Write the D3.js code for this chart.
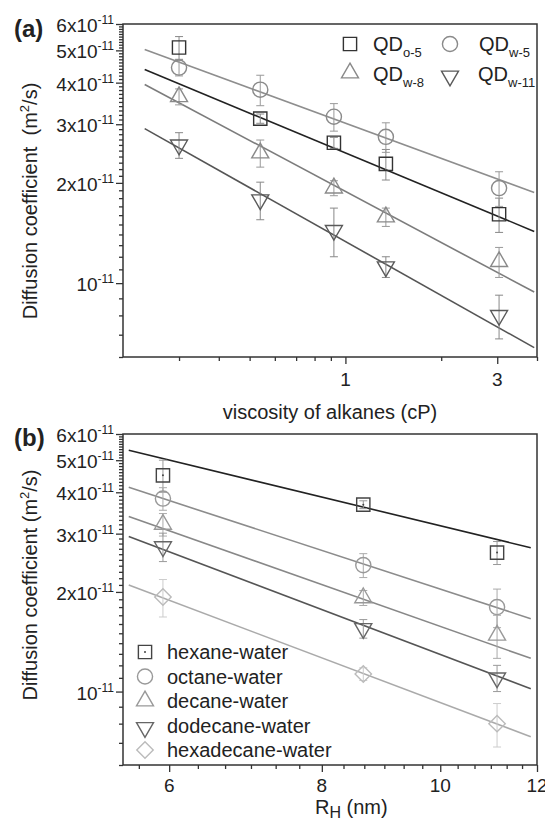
<html>
<head>
  <script src="https://d3js.org/d3.v7.min.js"></script>
  <style>
    body { margin: 0; background: #fff; }
    text { font-family: Arial, "Liberation Sans", sans-serif; fill: #222; }
    .axis line { stroke: #333; stroke-width: 1.3; }
    .axis .domain { stroke: none; }
  </style>
</head>
<body>
<svg id="chart" width=545 height=822></svg>
<script>
  // ---- panel (a) data, diffusion coefficient in units of 1e-11 m^2/s ----
  const viscosity = [0.3, 0.54, 0.92, 1.34, 3.04];
  const qdO5 = [5.1, 3.12, 2.64, 2.28, 1.61];
  const qdO5Err = [0.4, 0.1, 0.1, 0.24, 0.19];
  const qdW5 = [4.44, 3.81, 3.16, 2.75, 1.93];
  const qdW5Err = [0.25, 0.4, 0.3, 0.28, 0.23];
  const qdW8 = [3.63, 2.46, 1.93, 1.58, 1.16];
  const qdW8Err = [0.2, 0.23, 0.1, 0.1, 0.12];
  const qdW11 = [2.6, 1.78, 1.44, 1.12, 0.8];
  const qdW11Err = [0.23, 0.23, 0.24, 0.08, 0.12];
  // fitted lines (endpoints)
  const fitViscosity = [0.234, 3.92];
  const fitO5 = [4.38, 1.43];
  const fitW5 = [5.03, 1.87];
  const fitW8 = [3.95, 0.94];
  const fitW11 = [2.91, 0.64];

  // ---- panel (b) data ----
  const radiusH = [5.93, 8.65, 11.13];
  const hexane = [4.5, 3.67, 2.63];
  const hexaneErr = [0.5, 0.1, 0.21];
  const octane = [3.83, 2.41, 1.8];
  const octaneErr = [0.3, 0.2, 0.24];
  const decane = [3.2, 1.92, 1.48];
  const decaneErr = [0.25, 0.1, 0.22];
  const dodecane = [2.74, 1.55, 1.1];
  const dodecaneErr = [0.27, 0.1, 0.1];
  const hexadecane = [1.93, 1.13, 0.8];
  const hexadecaneErr = [0.25, 0.05, 0.12];
  const fitRadius = [5.56, 11.86];
  const fitHexane = [5.36, 2.72];
  const fitOctane = [4.14, 1.66];
  const fitDecane = [3.38, 1.26];
  const fitDodecane = [2.94, 1.02];
  const fitHexadecane = [2.1, 0.73];

  // ---- ticks ----
  const yMajor = [1, 2, 3, 4, 5, 6];
  const yMajorMant = ["", "2x", "3x", "4x", "5x", "6x"];
  const yExp = "-11";
  const yMinor = d3.range(6, 60).filter(i => i % 10 !== 0).map(i => i / 10);
  const xaMajor = [1, 3];
  const xaMajorLabels = ["1", "3"];
  const xaMinor = [0.3, 0.4, 0.5, 0.6, 0.7, 0.8, 0.9, 2, 4];
  const xbMajor = [6, 8, 10, 12];
  const xbMajorLabels = ["6", "8", "10", "12"];
  const xbMinor = d3.range(17, 36).filter(i => i % 6 !== 0).map(i => i / 3);

  const svg = d3.select("#chart");

  const shapes = {
    square: d3.symbol(d3.symbolSquare, 175)(),
    circle: d3.symbol(d3.symbolCircle, 180)(),
    tri: d3.symbol(d3.symbolTriangle, 125)(),
    diamond: d3.symbol(d3.symbolSquare, 135)()
  };
  const rot = { square: 0, circle: 0, tri: 0, triDown: 180, diamond: 45 };

  function marker(g, shape, cx, cy, color) {
    let s = shape === "triDown" ? "tri" : shape;
    g.append("path")
      .attr("d", shapes[s])
      .attr("transform", `translate(${cx},${cy}) rotate(${rot[shape]})`)
      .attr("fill", "none")
      .attr("stroke", color)
      .attr("stroke-width", 1.4);
  }

  function drawPanel(p) {
    const x = p.x, y = p.y;
    const [x0, x1] = x.range();
    const [yb, yt] = y.range();
    const g = svg.append("g");

    // minor and major ticks
    g.append("g").attr("class", "axis").attr("transform", `translate(${x0},0)`)
      .call(d3.axisLeft(y).tickValues(yMinor).tickSize(4).tickSizeOuter(0).tickFormat(""));
    g.append("g").attr("class", "axis").attr("transform", `translate(${x0},0)`)
      .call(d3.axisLeft(y).tickValues(yMajor).tickSize(7).tickSizeOuter(0).tickFormat(""));
    g.append("g").attr("class", "axis").attr("transform", `translate(0,${yb})`)
      .call(d3.axisBottom(x).tickValues(p.xMinor).tickSize(4).tickSizeOuter(0).tickFormat(""));
    g.append("g").attr("class", "axis").attr("transform", `translate(0,${yb})`)
      .call(d3.axisBottom(x).tickValues(p.xMajor).tickSize(7).tickSizeOuter(0).tickFormat(""));

    // y tick labels with superscript
    yMajor.forEach((v, i) => {
      let t = g.append("text")
        .attr("x", x0 - 9)
        .attr("y", y(v) + 8)
        .attr("text-anchor", "end")
        .style("font-size", "19px");
      t.append("tspan").text(yMajorMant[i] + "10");
      t.append("tspan").attr("dy", -8).style("font-size", "12px").text(yExp);
    });

    // x tick labels
    p.xMajor.forEach((v, i) => {
      g.append("text")
        .attr("x", x(v))
        .attr("y", yb + p.xLabelDy)
        .attr("text-anchor", "middle")
        .style("font-size", "19px")
        .text(p.xLabels[i]);
    });

    // frame
    g.append("rect")
      .attr("x", x0).attr("y", yt)
      .attr("width", x1 - x0).attr("height", yb - yt)
      .attr("fill", "none").attr("stroke", "#333").attr("stroke-width", 1.5);

    // y axis title
    let yt2 = g.append("text")
      .attr("transform", `translate(37,${p.yTitleY}) rotate(-90)`)
      .attr("text-anchor", "middle")
      .style("font-size", "20px");
    yt2.append("tspan").text(p.yTitle);
    yt2.append("tspan").attr("dy", -8).style("font-size", "13px").text("2");
    yt2.append("tspan").attr("dy", 8).text("/s)");

    // panel letter
    g.append("text")
      .attr("x", 14).attr("y", p.letterY)
      .style("font-size", "24px").style("font-weight", "bold")
      .text(p.letter);

    const line = d3.line().x(d => x(d[0])).y(d => y(d[1]));

    p.series.forEach(s => {
      // fit line
      g.append("path")
        .attr("d", line([[p.fitX[0], s.fit[0]], [p.fitX[1], s.fit[1]]]))
        .attr("fill", "none")
        .attr("stroke", s.lineColor)
        .attr("stroke-width", 1.6);
      // error bars
      s.values.forEach((v, i) => {
        let cx = x(p.xs[i]);
        let top = y(v + s.err[i]), bot = y(v - s.err[i]);
        g.append("line").attr("x1", cx).attr("x2", cx).attr("y1", top).attr("y2", bot)
          .attr("stroke", s.errColor).attr("stroke-width", 1);
        [top, bot].forEach(yy => {
          g.append("line").attr("x1", cx - 4).attr("x2", cx + 4).attr("y1", yy).attr("y2", yy)
            .attr("stroke", s.errColor).attr("stroke-width", 1);
        });
      });
      // markers
      s.values.forEach((v, i) => {
        marker(g, s.shape, x(p.xs[i]), y(v), s.color);
        if (s.dot) {
          g.append("circle").attr("cx", x(p.xs[i])).attr("cy", y(v)).attr("r", 1)
            .attr("fill", s.color);
        }
      });
    });
    return g;
  }

  // ---- panel (a) ----
  const xa = d3.scaleLog().domain([0.2, 4]).range([123, 537]);
  const ya = d3.scaleLog().domain([0.6, 6]).range([357, 24]);
  const ga = drawPanel({
    x: xa, y: ya, xs: viscosity, fitX: fitViscosity,
    xMajor: xaMajor, xMinor: xaMinor, xLabels: xaMajorLabels, xLabelDy: 29,
    yTitle: "Diffusion coefficient\u00a0\u00a0(m", yTitleY: 201,
    letter: "(a)", letterY: 37,
    series: [
      { values: qdO5, err: qdO5Err, fit: fitO5, shape: "square", color: "#333", lineColor: "#222", errColor: "#888" },
      { values: qdW5, err: qdW5Err, fit: fitW5, shape: "circle", color: "#8a8a8a", lineColor: "#8e8e8e", errColor: "#999" },
      { values: qdW8, err: qdW8Err, fit: fitW8, shape: "tri", color: "#8a8a8a", lineColor: "#7c7c7c", errColor: "#999" },
      { values: qdW11, err: qdW11Err, fit: fitW11, shape: "triDown", color: "#5a5a5a", lineColor: "#555", errColor: "#888" }
    ]
  });

  svg.append("text")
    .attr("x", 330).attr("y", 419)
    .attr("text-anchor", "middle")
    .style("font-size", "20px")
    .text("viscosity of alkanes (cP)");

  // legend (a)
  const legA = [
    { shape: "square", color: "#333", sub: "o-5", x: 350, y: 44, tx: 373 },
    { shape: "circle", color: "#8a8a8a", sub: "w-5", x: 450, y: 44, tx: 479 },
    { shape: "tri", color: "#8a8a8a", sub: "w-8", x: 350, y: 73, tx: 373 },
    { shape: "triDown", color: "#5a5a5a", sub: "w-11", x: 450, y: 76, tx: 478 }
  ];
  const rowBase = [51, 81];
  legA.forEach((d, i) => {
    marker(ga, d.shape, d.x, d.y, d.color);
    let t = ga.append("text")
      .attr("x", d.tx)
      .attr("y", rowBase[Math.floor(i / 2)])
      .style("font-size", "20px");
    t.append("tspan").text("QD");
    t.append("tspan").attr("dy", 6).style("font-size", "13px").text(d.sub);
  });

  // ---- panel (b) ----
  const xb = d3.scaleLog().domain([5.5, 12]).range([123, 537]);
  const yb = d3.scaleLog().domain([0.6, 6]).range([765, 434]);
  const bSeries = [
    { name: "hexane-water", values: hexane, err: hexaneErr, fit: fitHexane, shape: "square", color: "#444", lineColor: "#222", errColor: "#999", dot: true },
    { name: "octane-water", values: octane, err: octaneErr, fit: fitOctane, shape: "circle", color: "#999", lineColor: "#8c8c8c", errColor: "#aaa" },
    { name: "decane-water", values: decane, err: decaneErr, fit: fitDecane, shape: "tri", color: "#999", lineColor: "#888", errColor: "#aaa" },
    { name: "dodecane-water", values: dodecane, err: dodecaneErr, fit: fitDodecane, shape: "triDown", color: "#666", lineColor: "#555", errColor: "#999" },
    { name: "hexadecane-water", values: hexadecane, err: hexadecaneErr, fit: fitHexadecane, shape: "diamond", color: "#bbb", lineColor: "#aaa", errColor: "#ccc" }
  ];
  const gb = drawPanel({
    x: xb, y: yb, xs: radiusH, fitX: fitRadius,
    xMajor: xbMajor, xMinor: xbMinor, xLabels: xbMajorLabels, xLabelDy: 27,
    yTitle: "Diffusion coefficient (m", yTitleY: 585,
    letter: "(b)", letterY: 446,
    series: bSeries
  });

  // legend (b)
  bSeries.forEach((s, i) => {
    let cy = 652 + 24.5 * i;
    marker(gb, s.shape, 145, cy + (s.shape === "triDown" ? 2 : 0), s.color);
    if (s.dot) gb.append("circle").attr("cx", 145).attr("cy", cy).attr("r", 1).attr("fill", s.color);
    gb.append("text")
      .attr("x", 167).attr("y", cy + 7)
      .style("font-size", "20px")
      .text(s.name);
  });

  // x title (b)
  let xt = svg.append("text")
    .attr("x", 315).attr("y", 814)
    .style("font-size", "20px");
  xt.append("tspan").text("R");
  xt.append("tspan").attr("dy", 4).style("font-size", "16px").text("H");
  xt.append("tspan").attr("dy", -4).text(" (nm)");
</script>
</body>
</html>
